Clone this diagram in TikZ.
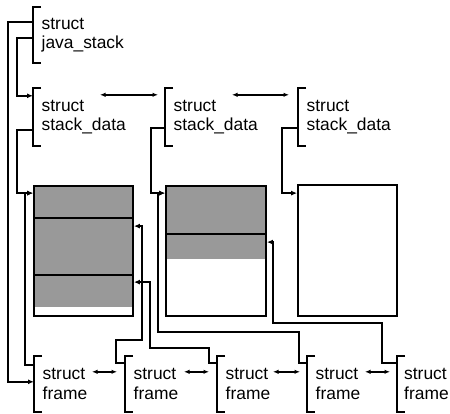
\documentclass[tikz,border=0pt]{standalone}
\usepackage{fontspec}
\setmainfont{Liberation Sans}
\usetikzlibrary{arrows.meta,calc}
\begin{document}
\begin{tikzpicture}[x=1pt,y=-1pt,
  ln/.style={line width=1.8pt},
  arr/.style={ln,-{Latex[length=6pt,width=5pt]}},
  darr/.style={line width=1.5pt,{Latex[length=5.5pt,width=4.5pt]}-{Latex[length=5.5pt,width=4.5pt]}},
  sn/.style={anchor=west, align=left, inner xsep=8.5pt, inner ysep=0pt,
    minimum height=#1, font=\fontsize{17.4}{19.5}\selectfont},
  sn/.default=56,
  memblk/.style={draw, line width=1.8pt, inner sep=0pt, minimum width=99pt, minimum height=130pt},
  halftone/.style={fill=black!40}
]
\useasboundingbox (0,0) rectangle (450,414);

% struct nodes
\node[sn] (java) at (33,35) {struct\\java\_stack};
\node[sn=58] (sd1) at (33,117) {struct\\stack\_data};
\node[sn=58] (sd2) at (165,117) {struct\\stack\_data};
\node[sn=58] (sd3) at (298,117) {struct\\stack\_data};
\node[sn] (f1) at (34,384) {struct\\frame};
\node[sn] (f2) at (125,384) {struct\\frame};
\node[sn] (f3) at (217,384) {struct\\frame};
\node[sn] (f4) at (307,384) {struct\\frame};
\node[sn, inner xsep=7pt] (f5) at (397,384) {struct\\frame};

\foreach \n in {java,sd1,sd2,sd3,f1,f2,f3,f4,f5}{
  \draw[ln] ([xshift=8pt]\n.north west) -- (\n.north west) -- (\n.south west) -- ([xshift=8pt]\n.south west);
}

% memory blocks
\fill[halftone] (34,186) rectangle (133,307);
\fill[halftone] (166,186) rectangle (266,259);
\node[memblk] (box1) at (83.5,251) {};
\node[memblk, minimum width=100pt] (box2) at (216,251) {};
\node[memblk, minimum height=131pt] (box3) at (347.5,250.5) {};
\draw[ln] ($(box1.north west)+(0,33)$) -- ($(box1.north east)+(0,33)$);
\draw[ln] ($(box1.north west)+(0,90)$) -- ($(box1.north east)+(0,90)$);
\draw[ln] ($(box2.north west)+(0,49)$) -- ($(box2.north east)+(0,49)$);

% connectors from java_stack
\draw[arr] ($(java.north west)+(0,15)$) -- ++(-25,0) |- ($(f1.north west)+(0,26)$);
\draw[arr] ($(java.north west)+(0,31)$) -- ++(-16,0) |- ($(sd1.north west)+(0,8)$);

% stack_data to blocks
\draw[arr] ($(sd1.north west)+(0,42)$) -- ++(-16,0) |- ($(box1.north west)+(0,8)$);
\draw[arr] ($(sd2.north west)+(0,40)$) -- ++(-14,0) |- ($(box2.north west)+(0,8)$);
\draw[arr] ($(sd3.north west)+(0,40)$) -- ++(-16,0) |- ($(box3.north west)+(0,9)$);

% frames to blocks
\draw[arr] ($(f1.north west)+(0,9)$) -- ++(-9,0) |- ($(box1.north west)+(0,8)$);
\draw[arr] ($(f2.north west)+(0,7)$) -- ++(-9,0) -- ++(0,-23) -- ++(26,0) |- ($(box1.north east)+(0,41)$);
\draw[arr] ($(f3.north west)+(0,7)$) -- ++(-8,0) -- ++(0,-15) -- ++(-59,0) |- ($(box1.north east)+(0,97)$);
\draw[arr] ($(f4.north west)+(0,7)$) -- ++(-8,0) -- ++(0,-31) -- ++(-141,0) |- ($(box2.north west)+(0,8)$);
\draw[arr] ($(f5.north west)+(0,7)$) -- ++(-15,0) -- ++(0,-40) -- ++(-109,0) |- ($(box2.north east)+(0,57)$);

% double links
\draw[darr] ($(sd1.north west)+(67,7)$) -- ($(sd2.north west)+(-7,7)$);
\draw[darr] ($(sd2.north west)+(67,7)$) -- ($(sd3.north west)+(-9,7)$);
\draw[darr] ($(f1.north west)+(58,16)$) -- ($(f2.north west)+(-8,16)$);
\draw[darr] ($(f2.north west)+(59,16)$) -- ($(f3.north west)+(-8,16)$);
\draw[darr] ($(f3.north west)+(56,16)$) -- ($(f4.north west)+(-7,16)$);
\draw[darr] ($(f4.north west)+(58,16)$) -- ($(f5.north west)+(-7,16)$);
\end{tikzpicture}
\end{document}
